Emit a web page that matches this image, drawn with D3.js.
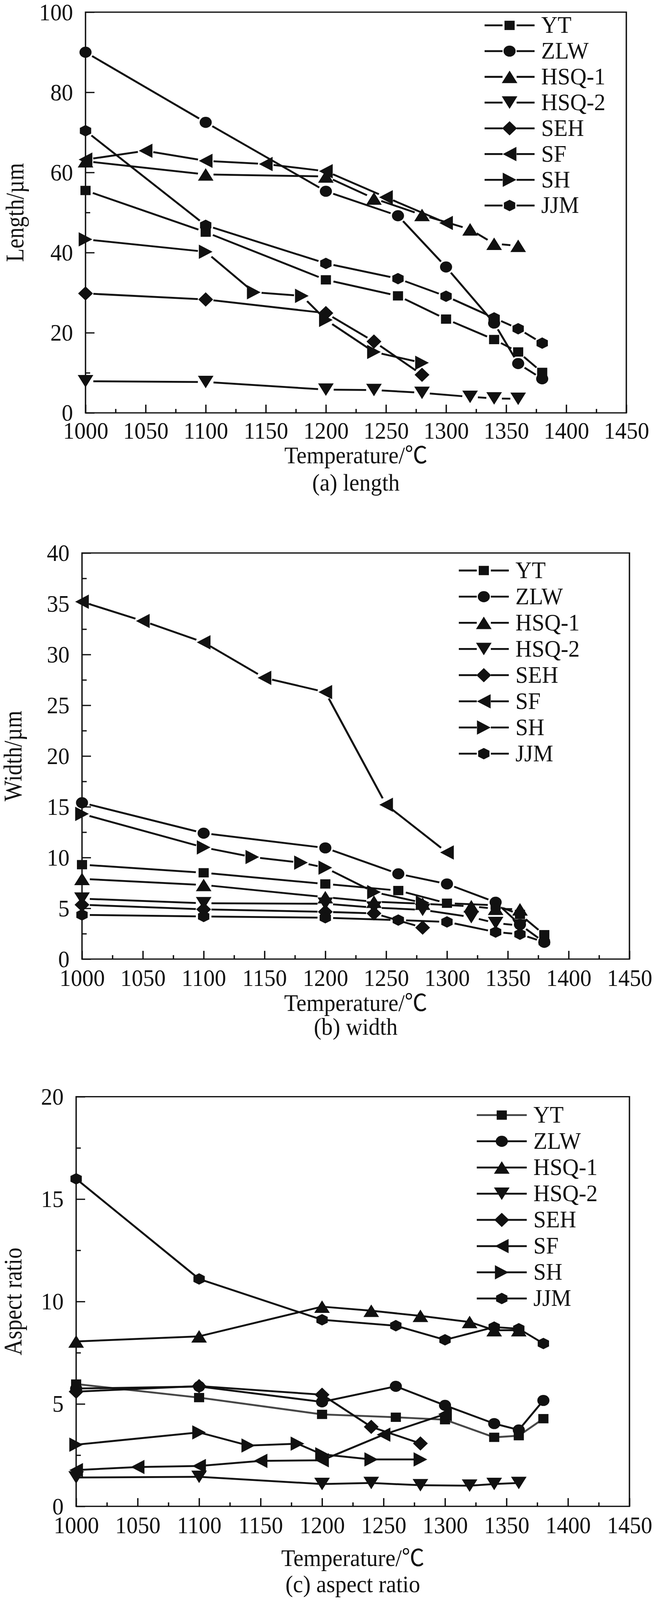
<!DOCTYPE html>
<html>
<head>
<meta charset="UTF-8">
<title>Fiber length, width and aspect ratio vs temperature</title>
<script src="https://d3js.org/d3.v7.min.js"></script>
<style>
  html, body { margin: 0; height: 100%; overflow: hidden; background: #fff; }
  svg { display: block; width: 100vw; height: 100vh; }
  text { font-family: "Liberation Serif", "Times New Roman", "Noto Sans CJK SC", serif; }
</style>
</head>
<body>
<svg id="chart"></svg>
<script>
const width = 1680, height = 4476;

// series, in legend order
const seriesNames = ["YT", "ZLW", "HSQ-1", "HSQ-2", "SEH", "SF", "SH", "JJM"];

// temperatures measured for each series (same for all three panels)
const temps = [
  [1000, 1100, 1200, 1260, 1300, 1340, 1360, 1380],  // YT
  [1000, 1100, 1200, 1260, 1300, 1340, 1360, 1380],  // ZLW
  [1000, 1100, 1200, 1240, 1280, 1320, 1340, 1360],  // HSQ-1
  [1000, 1100, 1200, 1240, 1280, 1320, 1340, 1360],  // HSQ-2
  [1000, 1100, 1200, 1240, 1280],                    // SEH
  [1000, 1050, 1100, 1150, 1200, 1250, 1300],        // SF
  [1000, 1100, 1140, 1180, 1200, 1240, 1280],        // SH
  [1000, 1100, 1200, 1260, 1300, 1340, 1360, 1380]   // JJM
];

// (a) length / um
const lengthValues = [
  [55.5, 45.1, 33.2, 29.2, 23.4, 18.3, 15.2, 10.1],
  [90.0, 72.5, 55.3, 49.2, 36.4, 22.4, 12.3, 8.5],
  [62.8, 59.5, 59.0, 53.5, 49.4, 45.8, 42.2, 41.7],
  [7.9, 7.7, 5.8, 5.7, 5.0, 4.0, 3.6, 3.5],
  [29.8, 28.3, 24.9, 17.8, 9.5],
  [63.2, 65.4, 62.9, 62.1, 60.3, 53.8, 47.4],
  [43.3, 40.2, 30.1, 29.2, 23.2, 15.2, 12.5],
  [70.4, 46.8, 37.3, 33.5, 29.1, 23.7, 21.0, 17.4]
];

// (b) width / um
const widthValues = [
  [9.3, 8.5, 7.4, 6.75, 5.5, 5.3, 4.4, 2.4],
  [15.4, 12.4, 10.95, 8.4, 7.4, 5.6, 3.4, 1.65],
  [7.9, 7.3, 6.1, 5.65, 5.45, 5.2, 4.95, 4.9],
  [5.95, 5.5, 5.45, 5.07, 4.85, 4.13, 3.55, 3.3],
  [5.35, 4.9, 4.65, 4.5, 3.1],
  [35.2, 33.3, 31.2, 27.7, 26.3, 15.2, 10.5],
  [14.3, 11.0, 10.05, 9.5, 9.0, 6.6, 5.55],
  [4.35, 4.2, 4.07, 3.84, 3.66, 2.66, 2.45, 1.67]
];

// (c) aspect ratio
const aspectValues = [
  [5.97, 5.31, 4.49, 4.35, 4.23, 3.37, 3.45, 4.28],
  [5.75, 5.85, 5.1, 5.86, 4.93, 4.04, 3.73, 5.17],
  [8.05, 8.3, 9.75, 9.55, 9.3, 9.0, 8.6, 8.6],
  [1.41, 1.44, 1.09, 1.14, 1.03, 1.01, 1.09, 1.14],
  [5.6, 5.87, 5.45, 3.88, 3.07],
  [1.77, 1.92, 1.97, 2.22, 2.25, 3.5, 4.5],
  [3.01, 3.61, 2.97, 3.06, 2.54, 2.29, 2.29],
  [15.99, 11.1, 9.11, 8.82, 8.13, 8.75, 8.67, 7.95]
];

const xTickValues = [1000, 1050, 1100, 1150, 1200, 1250, 1300, 1350, 1400, 1450];
const xMinorValues = [1025, 1075, 1125, 1175, 1225, 1275, 1325, 1375, 1425];

// panel layout
const panels = [
  { values: lengthValues, yMax: 100, yMajor: 20, yMinor: 10, yTitle: "Length/\u00b5m", caption: "(a) length",
    top: 34, bottom: 1155, left: 219, right: 1604, tickBase: 72, titleBase: 141, capBase: 217, yTitleX: 60,
    legX: 1241, legY: 71, legDy: 72, gap: 20, ytColor: "#111" },
  { values: widthValues, yMax: 40, yMajor: 5, yMinor: 2.5, yTitle: "Width/\u00b5m", caption: "(b) width",
    top: 1547, bottom: 2683, left: 210, right: 1612, tickBase: 75, titleBase: 145, capBase: 212, yTitleX: 55,
    legX: 1175, legY: 1596, legDy: 73.2, gap: 20, ytColor: "#111" },
  { values: aspectValues, yMax: 20, yMajor: 5, yMinor: 2.5, yTitle: "Aspect ratio", caption: "(c) aspect ratio",
    top: 3068, bottom: 4214, left: 195, right: 1612, tickBase: 75, titleBase: 167, capBase: 240, yTitleX: 55,
    legX: 1221, legY: 3119.5, legDy: 73.3, gap: 0, ytColor: "#474747" }
];

const ink = "#111";
const fontSize = 66, squeeze = 0.88;

// marker shapes (centered on the data point)
function poly(pts) {
  return { draw(ctx) { pts.forEach(([px, py], i) => i ? ctx.lineTo(px, py) : ctx.moveTo(px, py)); ctx.closePath(); } };
}
const markerTypes = [
  poly([[-13, -13], [13, -13], [13, 13], [-13, 13]]),                         // square
  { draw(ctx) { ctx.moveTo(15.5, 0); ctx.arc(0, 0, 15.5, 0, 2 * Math.PI); } }, // circle
  poly([[0, -17.5], [20, 17.5], [-20, 17.5]]),                                // up
  poly([[0, 17.5], [20, -17.5], [-20, -17.5]]),                               // down
  poly([[0, -20], [19, 0], [0, 20], [-19, 0]]),                               // diamond
  poly([[-17.5, 0], [17.5, -20], [17.5, 20]]),                                // left
  poly([[17.5, 0], [-17.5, -20], [-17.5, 20]]),                               // right
  poly([[0, -16], [14.5, -8], [14.5, 8], [0, 16], [-14.5, 8], [-14.5, -8]])   // hexagon
];
const symbolGen = i => d3.symbol().type(markerTypes[i]).size(1)();

// the drawing keeps its 1680x4476 coordinates and is fitted to the window
const svg = d3.select("#chart")
  .attr("viewBox", `0 0 ${width} ${height}`)
  .attr("preserveAspectRatio", "none");
svg.append("rect").attr("width", width).attr("height", height).attr("fill", "#fff");

function label(g, txt, x, y, anchor, rotate, sq = squeeze) {
  return g.append("text")
    .attr("transform", `translate(${x},${y})` + (rotate ? " rotate(-90)" : "") + ` scale(${sq},1)`)
    .attr("text-anchor", anchor)
    .attr("font-size", fontSize)
    .attr("fill", ink)
    .text(txt);
}

function drawPanel(p) {
  const x = d3.scaleLinear().domain([1000, 1450]).range([p.left, p.right]);
  const y = d3.scaleLinear().domain([0, p.yMax]).range([p.bottom, p.top]);
  const g = svg.append("g");

  const yMajor = d3.range(0, p.yMax + 1e-9, p.yMajor);
  const yMinor = d3.range(0, p.yMax + 1e-9, p.yMinor).filter(v => !yMajor.some(m => Math.abs(m - v) < 1e-9));

  // minor ticks
  g.append("g").attr("transform", `translate(0,${p.bottom})`)
    .call(d3.axisBottom(x).tickValues(xMinorValues).tickSizeInner(-11).tickSizeOuter(0).tickFormat(""))
    .call(a => a.select(".domain").remove());
  g.append("g").attr("transform", `translate(${p.left},0)`)
    .call(d3.axisLeft(y).tickValues(yMinor).tickSizeInner(-12).tickSizeOuter(0).tickFormat(""))
    .call(a => a.select(".domain").remove());

  // major ticks with labels
  g.append("g").attr("transform", `translate(0,${p.bottom})`)
    .call(d3.axisBottom(x).tickValues(xTickValues).tickSizeInner(-23).tickSizeOuter(0).tickFormat(d3.format("d")))
    .call(a => a.select(".domain").remove())
    .call(a => a.selectAll("text")
      .attr("y", p.tickBase).attr("dy", null)
      .attr("transform", `scale(${squeeze},1)`)
      .attr("font-size", fontSize).attr("fill", ink));
  g.append("g").attr("transform", `translate(${p.left},0)`)
    .call(d3.axisLeft(y).tickValues(yMajor).tickSizeInner(-23).tickSizeOuter(0).tickFormat(d3.format("d")))
    .call(a => a.select(".domain").remove())
    .call(a => a.selectAll("text")
      .attr("x", -32 / squeeze).attr("dy", "0.33em")
      .attr("transform", `scale(${squeeze},1)`)
      .attr("font-size", fontSize).attr("fill", ink));

  g.selectAll(".tick line").attr("stroke", ink).attr("stroke-width", 3.5);

  // frame
  g.append("rect")
    .attr("x", p.left).attr("y", p.top)
    .attr("width", p.right - p.left).attr("height", p.bottom - p.top)
    .attr("fill", "none").attr("stroke", ink).attr("stroke-width", 3.5);

  // series: lines broken around markers, then markers
  seriesNames.forEach((name, si) => {
    const pts = temps[si].map((t, k) => [x(t), y(p.values[si][k])]);
    const segs = d3.pairs(pts).map(([a, b]) => {
      const len = Math.hypot(b[0] - a[0], b[1] - a[1]);
      if (len <= 2 * p.gap) return null;
      const ux = (b[0] - a[0]) / len, uy = (b[1] - a[1]) / len;
      return [[a[0] + ux * p.gap, a[1] + uy * p.gap], [b[0] - ux * p.gap, b[1] - uy * p.gap]];
    }).filter(Boolean);
    const lineColor = si === 0 ? p.ytColor : ink;
    g.append("g").selectAll("path").data(segs).join("path")
      .attr("d", d3.line())
      .attr("fill", "none").attr("stroke", lineColor).attr("stroke-width", 5.2)
      .attr("stroke-linecap", "butt");
    g.append("g").selectAll("path").data(pts).join("path")
      .attr("transform", d => `translate(${d[0]},${d[1]})`)
      .attr("d", symbolGen(si))
      .attr("fill", ink);
  });

  // legend
  const leg = g.append("g");
  seriesNames.forEach((name, si) => {
    const ly = p.legY + si * p.legDy;
    const mx = p.legX + 64;
    const lineColor = si === 0 ? p.ytColor : ink;
    const pieces = p.gap > 0
      ? [[[p.legX, ly], [mx - 18, ly]], [[mx + 18, ly], [p.legX + 128, ly]]]
      : [[[p.legX, ly], [p.legX + 128, ly]]];
    leg.append("g").selectAll("path").data(pieces).join("path")
      .attr("d", d3.line()).attr("stroke", lineColor).attr("stroke-width", 5.2).attr("fill", "none");
    leg.append("path").attr("transform", `translate(${mx},${ly})`).attr("d", symbolGen(si)).attr("fill", ink);
    label(leg, name, p.legX + 145, ly + 21, "start");
  });

  // titles
  const cx = (p.left + p.right) / 2;
  label(g, "Temperature/\u2103", cx, p.bottom + p.titleBase, "middle");
  label(g, p.caption, cx, p.bottom + p.capBase, "middle");
  label(g, p.yTitle, p.yTitleX, (p.top + p.bottom) / 2, "middle", true, 0.94);
}

panels.forEach(drawPanel);
</script>
</body>
</html>
